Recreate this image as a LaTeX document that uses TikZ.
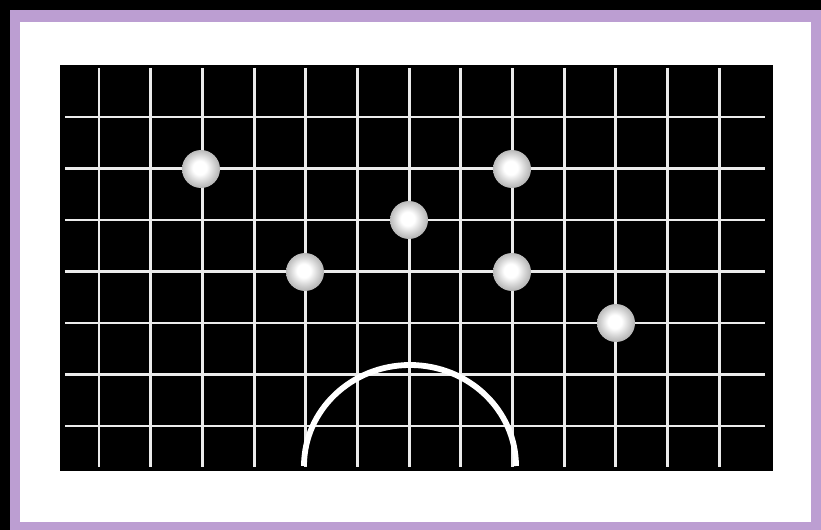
\documentclass[tikz,border=0pt]{standalone}
\definecolor{frame}{RGB}{188,158,210}
\pgfdeclareradialshading{glowball}{\pgfpoint{-2bp}{2bp}}{%
  color(0bp)=(white); color(9bp)=(white); color(20bp)=(white!80!black);
  color(32bp)=(white!60!black); color(42bp)=(white!42!black); color(50bp)=(white!22!black)}
\begin{document}
\begin{tikzpicture}[x=0.02cm,y=-0.02cm,
  gridline/.style={white!92!black,line width=1.7pt},
  ball/.style={circle,minimum size=0.76cm,inner sep=0pt,shading=glowball}]
\useasboundingbox (0,0) rectangle (821,530);
\fill[black] (0,0) rectangle (821,530);
\fill[frame] (10,10) rectangle (821,530);
\fill[white] (20,22) rectangle (811,522);
\fill[black] (60,65) rectangle (773,471);
% grid
\foreach \i in {0,...,12} {
  \draw[gridline] ({99+\i*51.67},68) -- ({99+\i*51.67},467);
}
\foreach \j in {0,...,6} {
  \draw[gridline] (65,{117+\j*51.5}) -- (765,{117+\j*51.5});
}
% arc
\draw[white,line width=3.3pt] (304,466) arc[start angle=180,end angle=0,x radius=106,y radius=-101];
% balls
\node[ball] (b1) at (201,169) {};
\node[ball] (b2) at (305,272) {};
\node[ball] (b3) at (409,220) {};
\node[ball] (b4) at (512,169) {};
\node[ball] (b5) at (512,272) {};
\node[ball] (b6) at (616,323) {};
\end{tikzpicture}
\end{document}
